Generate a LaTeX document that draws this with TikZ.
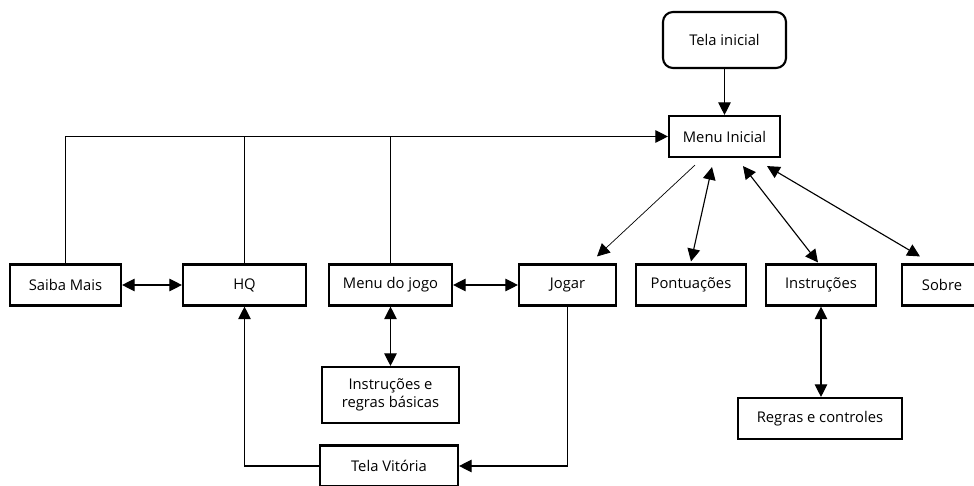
\documentclass[tikz,border=0pt]{standalone}
\usepackage{fontspec}
\setmainfont{Open Sans}
\usepackage{tikz}
\usetikzlibrary{arrows.meta}

\begin{document}
\begin{tikzpicture}[x=0.025cm,y=-0.025cm,
    font=\fontsize{10.5}{13}\selectfont,
    tela/.style={draw,line width=1.5pt,minimum height=1.025cm,inner sep=0pt,align=center},
    inicio/.style={tela,rounded corners=0.25cm,minimum height=1.4cm},
    seta/.style={line width=0.8pt,-{Triangle[length=9pt,width=9pt]}},
    setas/.style={line width=0.8pt,{Triangle[length=9pt,width=9pt]}-{Triangle[length=9pt,width=9pt]}}]
  \useasboundingbox (0,0) rectangle (974,486);

      \draw (724.5,40) node[inicio,minimum width=3.075cm] (telainicial) {Tela inicial};
  \draw (724.5,136.5) node[tela,minimum width=2.775cm] (menuinicial) {Menu Inicial};

      \draw (65.5,285) node[tela,minimum width=2.775cm] (saibamais) {Saiba Mais};
  \draw (244.5,285) node[tela,minimum width=3.075cm] (hq) {HQ};
      \draw (390.5,285) node[tela,minimum width=3.075cm] (menujogo) {Menu do jogo};
  \draw (567.5,285) node[tela,minimum width=2.425cm] (jogar) {Jogar};
      \draw (691,285) node[tela,minimum width=2.75cm] (pontuacoes) {Pontuações};
  \draw (821,285) node[tela,minimum width=2.75cm] (instrucoes) {Instruções};
      \draw (942,285) node[tela,minimum width=2cm] (sobre) {Sobre};

  \draw (390.5,395) node[tela,minimum width=3.425cm,minimum height=1.4cm] (basicas) {Instruções e\\regras básicas};
      \draw (820,418.5) node[tela,minimum width=4.1cm] (regras) {Regras e controles};
  \draw (389,466) node[tela,minimum width=3.45cm] (vitoria) {Tela Vitória};

      \path[seta] (telainicial) edge (menuinicial);
  \draw[seta] (saibamais.north) |- (menuinicial.west);
      \draw[line width=0.8pt] (hq.north) -- (hq.north |- menuinicial.west);
  \draw[line width=0.8pt] (menujogo.north) -- (menujogo.north |- menuinicial.west);

      \path[setas] (saibamais) edge (hq);
  \path[setas] (menujogo) edge (jogar);
      \path[setas] (menujogo) edge (basicas);
  \path[setas] (instrucoes) edge (regras.north -| instrucoes.south);

      \draw[seta,line width=0.5pt] ([shift={(-29.5,7)}]menuinicial.south) -- ([shift={(29.5,-7)}]jogar.north);
  \draw[setas] ([shift={(-12.5,9)}]menuinicial.south) -- ([shift={(0,-2)}]pontuacoes.north);
      \draw[setas] ([shift={(18.5,8)}]menuinicial.south) -- ([shift={(-3,-1)}]instrucoes.north);
  \draw[setas] ([shift={(42.5,8)}]menuinicial.south) -- ([shift={(-22,-7)}]sobre.north);

      \draw[seta] (jogar.south) |- (vitoria.east);
  \draw[seta] (vitoria.west) -| (hq.south);
\end{tikzpicture}
\end{document}
